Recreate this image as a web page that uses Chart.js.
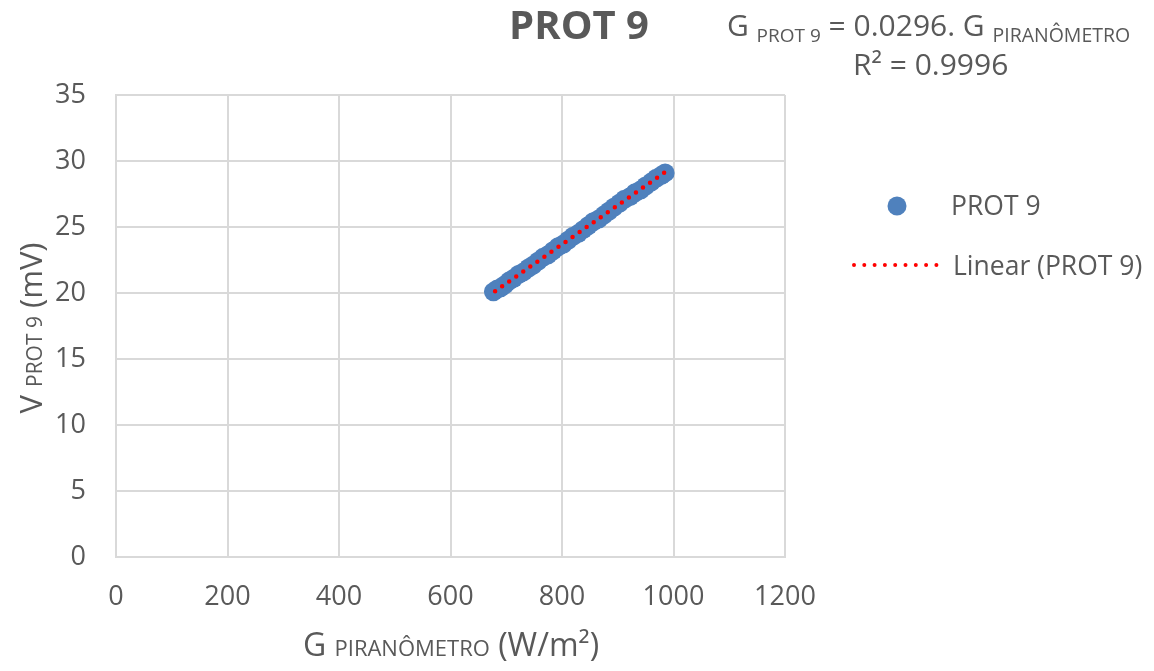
<!DOCTYPE html>
<html>
<head>
<meta charset="utf-8">
<script src="https://cdn.jsdelivr.net/npm/chart.js@4"></script>
<style>
  html, body { margin: 0; padding: 0; background: #fff; }
  canvas { display: block; }
</style>
</head>
<body>
<canvas id="myChart" width="1154" height="671"></canvas>
<script>
// dados
const g_piranometro = [677, 684, 690, 697, 705, 713, 722, 731, 740, 748, 757, 766, 775, 784, 793, 802, 811, 820, 829, 838, 847, 856, 866, 875, 884, 893, 903, 912, 922, 931, 941, 950, 960, 969, 978, 985];
const v_prot9 = [20.1, 20.3, 20.4, 20.6, 20.9, 21.1, 21.4, 21.6, 21.9, 22.1, 22.4, 22.7, 22.9, 23.2, 23.5, 23.7, 24.0, 24.3, 24.5, 24.8, 25.1, 25.4, 25.6, 25.9, 26.2, 26.5, 26.8, 27.1, 27.3, 27.6, 27.8, 28.1, 28.4, 28.7, 28.9, 29.1];
const linear_x = [680, 985];
const linear_y = [20.13, 29.16];
const x_ticks = [0, 200, 400, 600, 800, 1000, 1200];
const y_ticks = [0, 5, 10, 15, 20, 25, 30, 35];

const FONT = '"Open Sans", sans-serif';
const GREY = '#595959';

function drawRuns(ctx, runs, x, y, align) {
    let total = 0;
    runs.forEach(r => {
        ctx.font = (r.bold ? 'bold ' : '') + r.size + 'px ' + FONT;
        r.w = ctx.measureText(r.t).width;
        total += r.w;
    });
    let cx = align === 'center' ? x - total / 2 : (align === 'right' ? x - total : x);
    runs.forEach(r => {
        ctx.font = (r.bold ? 'bold ' : '') + r.size + 'px ' + FONT;
        ctx.fillText(r.t, cx, y + (r.dy || 0));
        cx += r.w;
    });
}

const textos = {
    id: 'textos',
    afterDraw(chart) {
        const ctx = chart.ctx;
        ctx.save();
        ctx.fillStyle = GREY;
        ctx.textBaseline = 'alphabetic';
        ctx.textAlign = 'left';

        // titulo
        drawRuns(ctx, [{t: 'PROT 9', size: 40, bold: true}], 579, 39, 'center');

        // equacao
        drawRuns(ctx, [
            {t: 'G ', size: 30},
            {t: 'PROT 9', size: 19, dy: 6},
            {t: ' = 0.0296. G ', size: 30},
            {t: 'PIRANÔMETRO', size: 19.5, dy: 6}
        ], 727, 36, 'left');
        drawRuns(ctx, [{t: 'R² = 0.9996', size: 30}], 853, 75, 'left');

        // eixo x
        drawRuns(ctx, [
            {t: 'G ', size: 32},
            {t: 'PIRANÔMETRO', size: 22},
            {t: ' (W/m²)', size: 32}
        ], 451, 656, 'center');

        // eixo y
        ctx.translate(42, 328);
        ctx.rotate(-Math.PI / 2);
        drawRuns(ctx, [
            {t: 'V ', size: 31},
            {t: 'PROT 9', size: 21},
            {t: ' (mV)', size: 31}
        ], 0, 0, 'center');
        ctx.restore();

        // legenda
        ctx.save();
        ctx.fillStyle = '#4f81bd';
        ctx.beginPath();
        ctx.arc(897, 206, 9.5, 0, Math.PI * 2);
        ctx.fill();
        ctx.strokeStyle = '#ff0000';
        ctx.lineWidth = 4;
        ctx.lineCap = 'round';
        ctx.setLineDash([0, 10.3]);
        ctx.beginPath();
        ctx.moveTo(854, 265);
        ctx.lineTo(946, 265);
        ctx.stroke();
        ctx.fillStyle = GREY;
        ctx.font = '26.5px ' + FONT;
        ctx.fillText('PROT 9', 951, 215);
        ctx.fillText('Linear (PROT 9)', 953, 275);
        ctx.restore();
    }
};

const ctx = document.getElementById('myChart').getContext('2d');
const myChart = new Chart(ctx, {
    type: 'scatter',
    data: {
        datasets: [{
            label: 'PROT 9',
            data: g_piranometro.map((x, i) => ({x: x, y: v_prot9[i]})),
            backgroundColor: '#4f81bd',
            borderColor: '#4f81bd',
            pointRadius: 9.5,
            pointBorderWidth: 0,
            order: 2
        }, {
            label: 'Linear (PROT 9)',
            type: 'line',
            data: linear_x.map((x, i) => ({x: x, y: linear_y[i]})),
            borderColor: '#ff0000',
            borderWidth: 4.5,
            borderDash: [0, 8.6],
            borderCapStyle: 'round',
            pointRadius: 0,
            fill: false,
            order: 1
        }]
    },
    options: {
        responsive: false,
        animation: false,
        layout: {
            padding: { left: 0, right: 369, top: 95, bottom: 0 }
        },
        plugins: {
            legend: { display: false },
            tooltip: { enabled: false }
        },
        scales: {
            x: {
                type: 'linear',
                min: 0,
                max: 1200,
                afterBuildTicks: s => { s.ticks = x_ticks.map(v => ({value: v})); },
                afterFit: s => { s.height = 114; },
                grid: { color: '#d9d9d9', lineWidth: 2, drawTicks: false },
                border: { color: '#d9d9d9', width: 2 },
                ticks: { color: GREY, padding: 24, font: { family: FONT, size: 27 }, callback: v => String(v) }
            },
            y: {
                min: 0,
                max: 35,
                afterBuildTicks: s => { s.ticks = y_ticks.map(v => ({value: v})); },
                afterFit: s => { s.width = 116; },
                grid: { color: '#d9d9d9', lineWidth: 2, drawTicks: false },
                border: { color: '#d9d9d9', width: 2 },
                ticks: { color: GREY, padding: 30, font: { family: FONT, size: 27 }, callback: v => String(v) }
            }
        }
    },
    plugins: [textos]
});
</script>
</body>
</html>
